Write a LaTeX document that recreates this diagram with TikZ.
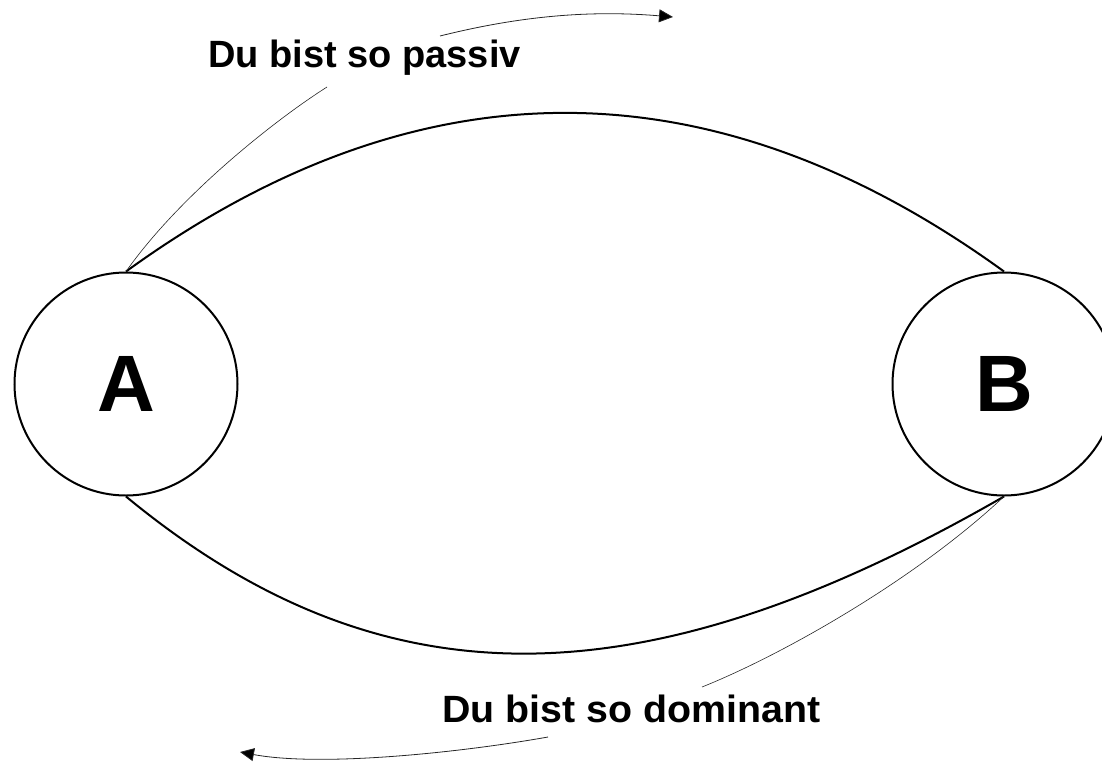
\documentclass[tikz,border=0pt]{standalone}
\usepackage{fontspec}
\setmainfont{Liberation Sans}
\usetikzlibrary{arrows.meta}
\begin{document}
\begin{tikzpicture}[x=1pt,y=-1pt,
  circ/.style={circle,draw,line width=2pt,minimum size=223pt,inner sep=0pt,
    font=\fontsize{80}{80}\selectfont\bfseries},
  bigarc/.style={line width=2pt},
  leader/.style={line width=0.6pt,black!85},
  flow/.style={line width=0.8pt,black!85,-{Triangle[length=14pt,width=13pt,fill=black]}},
  lab/.style={font=\fontsize{38}{38}\selectfont\bfseries,inner sep=0pt,anchor=base west}]
\useasboundingbox (0,0) rectangle (1102,763);
\clip (0,0) rectangle (1102,763);
% circles
\node[circ] (A) at (126,384) {A};
\node[circ] (B) at (1004,384) {B};
% labels
\node[lab] (passiv) at (208,67) {Du bist so passiv};
\node[lab] (dominant) at (442,722) {\scalebox{1.035}[1]{Du bist so dominant}};
% big arcs
\draw[bigarc] (A.north) .. controls (418,60) and (712,60) .. (B.north);
\draw[bigarc] (A.south) .. controls (380,706) and (640,706) .. (B.south);
% leader lines
\coordinate (pend) at (327,87);
\coordinate (dend) at (702,687);
\draw[leader] (A.north) .. controls (180,195) and (275,120) .. (pend);
\draw[leader] (B.south) .. controls (915,580) and (782,655) .. (dend);
% flow arrows
\coordinate (ta0) at (440,36);
\coordinate (ta1) at (673,17);
\coordinate (ba0) at (548,737);
\coordinate (ba1) at (240,752);
\draw[flow] (ta0) .. controls (520,16) and (590,10) .. (ta1);
\draw[flow] (ba0) .. controls (458,753) and (320,767) .. (ba1);
\end{tikzpicture}
\end{document}
